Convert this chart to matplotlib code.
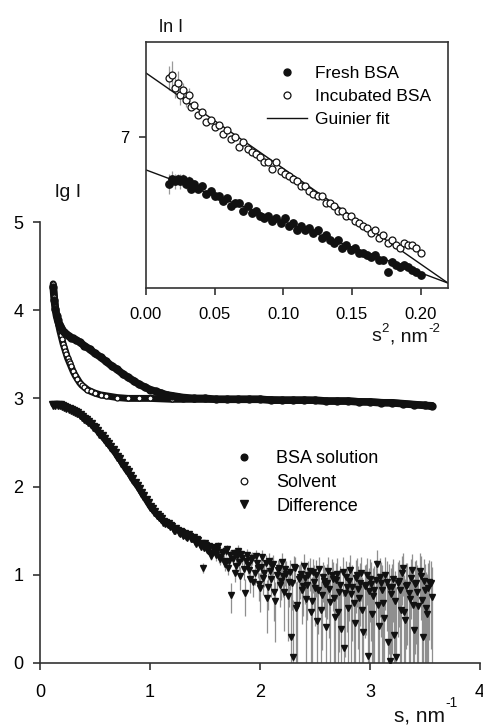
import numpy as np
import matplotlib
matplotlib.use("Agg")
import matplotlib.pyplot as plt
from matplotlib.lines import Line2D

plt.rcParams["font.family"] = ["Liberation Sans", "DejaVu Sans"]

# ---- main panel: lg I vs s ----
bsa_s = [0.12, 0.13, 0.14, 0.15, 0.16, 0.17, 0.18, 0.19, 0.20,
         0.22, 0.24, 0.26, 0.28, 0.30, 0.33, 0.36,
         0.40, 0.45, 0.50, 0.55, 0.60, 0.65, 0.70, 0.75, 0.80, 0.85,
         0.90, 0.95, 1.00, 1.05, 1.10, 1.15, 1.20, 1.25, 1.30,
         1.40, 1.50, 1.60, 1.70, 1.80, 1.90, 2.00, 2.10, 2.20, 2.30, 2.40,
         2.50, 2.60, 2.70, 2.80, 2.90, 3.00, 3.10, 3.20, 3.30, 3.40, 3.50, 3.56]
bsa_lg = [4.27, 4.12, 4.01, 3.94, 3.89, 3.85, 3.82, 3.80, 3.78,
          3.75, 3.73, 3.71, 3.69, 3.68, 3.66, 3.64,
          3.60, 3.56, 3.51, 3.47, 3.42, 3.37, 3.33, 3.28, 3.24, 3.20,
          3.16, 3.13, 3.10, 3.08, 3.06, 3.04, 3.03, 3.02, 3.01,
          3.00, 3.00, 2.99, 2.99, 2.99, 2.99, 2.99, 2.98, 2.98, 2.98, 2.98,
          2.98, 2.97, 2.97, 2.97, 2.96, 2.96, 2.95, 2.95, 2.94, 2.93, 2.92, 2.91]

solv_s = [0.12, 0.13, 0.14, 0.15, 0.16, 0.17, 0.18, 0.19, 0.20, 0.21, 0.22,
          0.23, 0.24, 0.25, 0.26, 0.27, 0.28,
          0.30, 0.32, 0.34, 0.36, 0.38, 0.40,
          0.43, 0.46, 0.50, 0.55, 0.60,
          0.70, 0.80, 0.90, 1.00,
          1.20, 1.40, 1.60, 1.80, 2.00, 2.20, 2.40, 2.60, 2.80, 3.00, 3.20, 3.40,
          3.56]
solv_lg = [4.30, 4.15, 4.04, 3.96, 3.90, 3.83, 3.77, 3.72, 3.67, 3.62, 3.58,
           3.54, 3.50, 3.46, 3.43, 3.40, 3.37,
           3.31, 3.26, 3.22, 3.18, 3.15, 3.13,
           3.10, 3.08, 3.06, 3.04, 3.03,
           3.01, 3.00, 3.00, 3.00,
           2.99, 2.99, 2.99, 2.99, 2.99, 2.98, 2.98, 2.97, 2.97, 2.96, 2.95, 2.93,
           2.92]

# difference curve, smooth low-angle part
diff_s_a = [0.12, 0.14, 0.16, 0.18, 0.20, 0.22, 0.24, 0.26, 0.28, 0.30,
            0.32, 0.34, 0.36, 0.38, 0.40, 0.42, 0.44, 0.46, 0.48, 0.50,
            0.52, 0.54, 0.56, 0.58, 0.60, 0.62, 0.64, 0.66, 0.68, 0.70,
            0.72, 0.74, 0.76, 0.78, 0.80, 0.82, 0.84, 0.86, 0.88, 0.90,
            0.92, 0.94, 0.96, 0.98, 1.00, 1.02, 1.04, 1.06, 1.08, 1.10,
            1.12, 1.14, 1.16, 1.18]
diff_lg_a = [2.93, 2.93, 2.92, 2.92, 2.91, 2.90, 2.89, 2.88, 2.87, 2.86,
             2.84, 2.83, 2.81, 2.79, 2.77, 2.75, 2.73, 2.71, 2.68, 2.66,
             2.63, 2.60, 2.57, 2.54, 2.51, 2.48, 2.45, 2.41, 2.38, 2.34,
             2.31, 2.27, 2.23, 2.19, 2.16, 2.12, 2.08, 2.04, 2.01, 1.97,
             1.93, 1.89, 1.85, 1.81, 1.77, 1.74, 1.71, 1.68, 1.65, 1.63,
             1.60, 1.59, 1.57, 1.55]

# difference curve, noisy part, even grid (groups of ten)
diff_s_b = [1.20, 1.22, 1.24, 1.26, 1.28, 1.30, 1.32, 1.34, 1.36, 1.38,
            1.40, 1.42, 1.44, 1.46, 1.48, 1.50, 1.52, 1.54, 1.56, 1.58,
            1.60, 1.62, 1.64, 1.66, 1.68, 1.70, 1.72, 1.74, 1.76, 1.78,
            1.80, 1.82, 1.84, 1.86, 1.88, 1.90, 1.92, 1.94, 1.96, 1.98,
            2.00, 2.02, 2.04, 2.06, 2.08, 2.10, 2.12, 2.14, 2.16, 2.18,
            2.20, 2.22, 2.24, 2.26, 2.28, 2.30, 2.32, 2.34, 2.36, 2.38,
            2.40, 2.42, 2.44, 2.46, 2.48, 2.50, 2.52, 2.54, 2.56, 2.58,
            2.60, 2.62, 2.64, 2.66, 2.68, 2.70, 2.72, 2.74, 2.76, 2.78,
            2.80, 2.82, 2.84, 2.86, 2.88, 2.90, 2.92, 2.94, 2.96, 2.98,
            3.00, 3.02, 3.04, 3.06, 3.08, 3.10, 3.12, 3.14, 3.16, 3.18,
            3.20, 3.22, 3.24, 3.26, 3.28, 3.30, 3.32, 3.34, 3.36, 3.38,
            3.40, 3.42, 3.44, 3.46, 3.48, 3.50, 3.52, 3.54, 3.56]
diff_lg_b = [1.55, 1.50, 1.53, 1.47, 1.49, 1.44, 1.47, 1.41, 1.44, 1.40,
             1.43, 1.35, 1.39, 1.31, 1.08, 1.36, 1.28, 1.33, 1.25, 1.31,
             1.22, 1.33, 1.18, 1.26, 1.12, 1.29, 1.15, 0.77, 1.24, 1.10,
             1.27, 0.98, 1.19, 0.79, 1.22, 1.05, 1.17, 0.92, 1.21, 1.08,
             0.85, 1.20, 1.02, 0.74, 1.15, 0.95, 1.12, 0.70, 1.05, 0.88,
             1.14, 0.80, 1.01, 0.92, 0.29, 0.07, 1.08, 0.66, 0.97, 0.83,
             1.10, 0.72, 0.99, 0.58, 1.03, 0.85, 0.47, 1.06, 0.77, 0.93,
             0.40, 1.04, 0.69, 0.95, 0.52, 1.01, 0.80, 0.38, 0.17, 0.97,
             0.62, 1.05, 0.86, 0.45, 0.99, 0.73, 1.02, 0.35, 0.88, 0.08,
             0.95, 0.55, 0.82, 1.12, 0.42, 0.90, 0.68, 1.00, 0.24, 0.02,
             0.86, 0.31, 0.07, 0.93, 0.60, 1.07, 0.48, 0.88, 0.72, 1.05,
             0.37, 0.91, 0.64, 0.98, 0.29, 0.83, 0.55, 0.92, 0.75]
# noisy part, odd grid (groups of ten)
diff_s_c = [1.21, 1.23, 1.25, 1.27, 1.29, 1.31, 1.33, 1.35, 1.37, 1.39,
            1.41, 1.43, 1.45, 1.47, 1.49, 1.51, 1.53, 1.55, 1.57, 1.59,
            1.61, 1.63, 1.65, 1.67, 1.69, 1.71, 1.73, 1.75, 1.77, 1.79,
            1.81, 1.83, 1.85, 1.87, 1.89, 1.91, 1.93, 1.95, 1.97, 1.99,
            2.01, 2.03, 2.05, 2.07, 2.09, 2.11, 2.13, 2.15, 2.17, 2.19,
            2.21, 2.23, 2.25, 2.27, 2.29, 2.31, 2.33, 2.35, 2.37, 2.39,
            2.41, 2.43, 2.45, 2.47, 2.49, 2.51, 2.53, 2.55, 2.57, 2.59,
            2.61, 2.63, 2.65, 2.67, 2.69, 2.71, 2.73, 2.75, 2.77, 2.79,
            2.81, 2.83, 2.85, 2.87, 2.89, 2.91, 2.93, 2.95, 2.97, 2.99,
            3.01, 3.03, 3.05, 3.07, 3.09, 3.11, 3.13, 3.15, 3.17, 3.19,
            3.21, 3.23, 3.25, 3.27, 3.29, 3.31, 3.33, 3.35, 3.37, 3.39,
            3.41, 3.43, 3.45, 3.47, 3.49, 3.51, 3.53, 3.55]
diff_lg_c = [1.52, 1.49, 1.51, 1.46, 1.48, 1.45, 1.43, 1.46, 1.40, 1.42,
             1.37, 1.40, 1.34, 1.36, 1.30, 1.34, 1.27, 1.21, 1.30, 1.26,
             1.28, 1.20, 1.25, 1.16, 1.27, 1.08, 1.22, 1.18, 1.02, 1.21,
             1.14, 1.23, 1.06, 1.16, 1.11, 0.95, 1.19, 1.02, 1.13, 0.89,
             1.09, 0.96, 1.13, 0.86, 1.04, 1.10, 0.80, 1.00, 1.07, 0.93,
             0.98, 1.06, 0.76, 1.03, 0.90, 1.09, 0.62, 0.95, 1.01, 0.87,
             0.96, 0.88, 1.04, 0.70, 0.92, 1.00, 0.82, 0.60, 0.97, 0.89,
             0.91, 0.84, 1.00, 0.74, 0.94, 0.57, 0.88, 1.03, 0.79, 0.86,
             0.93, 0.78, 0.68, 0.96, 0.84, 0.91, 0.60, 0.87, 1.00, 0.81,
             0.89, 0.76, 0.94, 0.65, 0.97, 0.83, 0.51, 0.92, 0.86, 0.78,
             0.95, 0.70, 0.90, 0.82, 1.02, 0.58, 0.87, 0.79, 0.96, 0.66,
             0.89, 0.80, 1.04, 0.71, 0.93, 0.62, 0.85, 0.90]
# absolute intensity error for each group of ten points above
diff_sigma = [1.0, 1.5, 2.2, 2.8, 3.3, 4.0, 4.5, 5.0, 5.5, 6.0, 6.0, 6.5]

# ---- inset: Guinier plot ----
g_s2 = [0.017, 0.019, 0.021, 0.023, 0.025, 0.027, 0.029, 0.031, 0.033, 0.035,
        0.038, 0.041, 0.044, 0.047, 0.050, 0.053, 0.056, 0.059, 0.062, 0.065,
        0.068, 0.071, 0.074, 0.077, 0.080, 0.083, 0.086, 0.089, 0.092, 0.095,
        0.098, 0.101, 0.104, 0.107, 0.110, 0.113, 0.116, 0.119, 0.122, 0.125,
        0.128, 0.131, 0.134, 0.137, 0.140, 0.143, 0.146, 0.149, 0.152, 0.155,
        0.158, 0.161, 0.164, 0.167, 0.170, 0.173, 0.176, 0.179, 0.182, 0.185,
        0.188, 0.191, 0.194, 0.197, 0.200]
fresh_ln = [6.81, 6.83, 6.82, 6.83, 6.82, 6.83, 6.81, 6.82, 6.79, 6.81,
            6.79, 6.80, 6.77, 6.78, 6.76, 6.76, 6.74, 6.75, 6.72, 6.73,
            6.73, 6.70, 6.72, 6.69, 6.70, 6.68, 6.67, 6.68, 6.66, 6.67,
            6.65, 6.67, 6.64, 6.65, 6.62, 6.64, 6.62, 6.63, 6.61, 6.62,
            6.59, 6.60, 6.58, 6.57, 6.58, 6.55, 6.56, 6.54, 6.55, 6.53,
            6.53, 6.52, 6.51, 6.52, 6.50, 6.50, 6.45, 6.49, 6.48, 6.47,
            6.48, 6.47, 6.46, 6.45, 6.44]
incub_ln = [7.24, 7.25, 7.20, 7.22, 7.17, 7.19, 7.15, 7.17, 7.12, 7.13,
            7.09, 7.10, 7.06, 7.07, 7.04, 7.05, 7.01, 7.03, 6.99, 7.00,
            6.96, 6.98, 6.95, 6.94, 6.93, 6.92, 6.90, 6.90, 6.87, 6.90,
            6.86, 6.85, 6.84, 6.83, 6.82, 6.80, 6.80, 6.78, 6.77, 6.76,
            6.76, 6.73, 6.73, 6.72, 6.70, 6.70, 6.68, 6.68, 6.66, 6.65,
            6.64, 6.63, 6.61, 6.62, 6.59, 6.60, 6.57, 6.58, 6.56, 6.55,
            6.57, 6.56, 6.56, 6.55, 6.53]
# error bars visible only on the first points
fresh_err = [0.04, 0.03, 0.03, 0.02, 0.03, 0.02, 0.02, 0.02]
incub_err = [0.05, 0.06, 0.04, 0.05, 0.04, 0.03, 0.03, 0.03]
fit_s2 = [0.0, 0.22]
fresh_fit = [6.866, 6.406]
incub_fit = [7.260, 6.406]

ink = "#111111"
spine_col = "#333333"
W, H = 483, 728


def fx(px):
    return px / W


def fy(py):
    return 1 - py / H


fig = plt.figure(figsize=(4.83, 7.28), dpi=100)

# main axes
ax = fig.add_axes([fx(40), fy(662.7), fx(440), 440.5 / H])
ax.set_xlim(0, 4)
ax.set_ylim(0, 5)
ax.set_xticks([0, 1, 2, 3, 4])
ax.set_yticks([0, 1, 2, 3, 4, 5])
for side in ["top", "right"]:
    ax.spines[side].set_visible(False)
for side in ["left", "bottom"]:
    ax.spines[side].set_color(spine_col)
    ax.spines[side].set_linewidth(1.2)
ax.tick_params(direction="out", length=5, width=1.2, color=spine_col,
               labelsize=13)
ax.tick_params(axis="y", pad=7)
ax.tick_params(axis="x", pad=10)


# error bars of the difference curve (both grids)
def log_bars(s, y):
    s = np.array(s)
    y = np.array(y)
    sig = np.repeat(diff_sigma, 10)[:len(s)]
    inten = 10 ** y
    lo = np.where(inten > sig, y - np.log10(np.clip(inten - sig, 1e-9, None)), y)
    hi = np.log10(inten + sig) - y
    return s, y, lo, hi


for s_, y_ in [(diff_s_b, diff_lg_b), (diff_s_c, diff_lg_c)]:
    s, y, lo, hi = log_bars(s_, y_)
    ax.errorbar(s, y, yerr=[lo, hi], fmt="none", ecolor="#8f8f8f",
                elinewidth=0.9, capsize=0, zorder=1)

# connecting bands of the dense curves
ax.plot(solv_s, solv_lg, color=ink, lw=5.0, zorder=2, solid_capstyle="round")
ax.plot(bsa_s, bsa_lg, color=ink, lw=5.5, zorder=2, solid_capstyle="round")
ax.plot(diff_s_a, diff_lg_a, color=ink, lw=4.0, zorder=2, solid_capstyle="round")

ax.plot(solv_s, solv_lg, "o", ms=3.6, mfc="white", mec=ink, mew=0.9, zorder=3)
ax.plot(bsa_s, bsa_lg, "o", ms=5.0, color=ink, zorder=4)
ax.plot(diff_s_a, diff_lg_a, "v", ms=5.5, color=ink, zorder=3)
ax.plot(diff_s_b, diff_lg_b, "v", ms=5.0, color=ink, zorder=3)
ax.plot(diff_s_c, diff_lg_c, "v", ms=5.0, color=ink, zorder=3)

handles = [Line2D([], [], ls="none", marker="o", ms=4.8, color=ink),
           Line2D([], [], ls="none", marker="o", ms=4.8, mfc="white", mec=ink, mew=0.9),
           Line2D([], [], ls="none", marker="v", ms=5.2, color=ink)]
fig.legend(handles, ["BSA solution", "Solvent", "Difference"],
           loc="upper left", bbox_to_anchor=(fx(223), fy(450)),
           frameon=False, fontsize=13, handlelength=2.3, handletextpad=0.65,
           labelspacing=0.38, borderpad=0, borderaxespad=0)


def label_with_sup(x0, base_y, sup_y, parts, size, sup_size):
    # parts: list of (text, is_superscript); pieces are placed one after another
    prev = None
    for txt, is_sup in parts:
        y = sup_y if is_sup else base_y
        fs = sup_size if is_sup else size
        if prev is None:
            prev = ax.annotate(txt, xy=(fx(x0), fy(y)), xycoords="figure fraction",
                               fontsize=fs, color=ink, va="baseline", ha="left",
                               annotation_clip=False)
        else:
            prev = ax.annotate(txt, xy=(1, fy(y)), xycoords=(prev, "figure fraction"),
                               xytext=(0.6, 0), textcoords="offset points",
                               fontsize=fs, color=ink, va="baseline", ha="left",
                               annotation_clip=False)


fig.text(fx(55), fy(197), "lg I", fontsize=14, color=ink)
label_with_sup(394, 721, 707, [("s, nm", False), ("-1", True)], 15, 10)

# inset axes
ins = fig.add_axes([fx(146), fy(288), 302 / W, 246 / H])
ins.set_xlim(0, 0.22)
ins.set_ylim(6.386, 7.386)
ins.set_xticks([0.0, 0.05, 0.10, 0.15, 0.20])
ins.set_xticklabels(["0.00", "0.05", "0.10", "0.15", "0.20"])
ins.set_yticks([7])
for side in ins.spines:
    ins.spines[side].set_color(spine_col)
    ins.spines[side].set_linewidth(1.2)
ins.tick_params(direction="out", length=4.8, width=1.2, color=spine_col,
                labelsize=12)
ins.tick_params(axis="y", pad=7)
ins.tick_params(axis="x", pad=9)

ins.plot(fit_s2, fresh_fit, color=ink, lw=1.0, zorder=2)
ins.plot(fit_s2, incub_fit, color=ink, lw=1.0, zorder=2)
n_e = len(fresh_err)
ins.errorbar(g_s2[:n_e], fresh_ln[:n_e], yerr=fresh_err, fmt="none",
             ecolor="#9a9a9a", elinewidth=0.9, zorder=1)
ins.errorbar(g_s2[:n_e], incub_ln[:n_e], yerr=incub_err, fmt="none",
             ecolor="#9a9a9a", elinewidth=0.9, zorder=1)
ins.plot(g_s2, fresh_ln, "o", ms=5.3, color=ink, zorder=3)
ins.plot(g_s2, incub_ln, "o", ms=5.0, mfc="white", mec=ink, mew=0.9, zorder=3)

ihandles = [Line2D([], [], ls="none", marker="o", ms=5.0, color=ink),
            Line2D([], [], ls="none", marker="o", ms=5.0, mfc="white", mec=ink, mew=0.9),
            Line2D([], [], color=ink, lw=1.0)]
fig.legend(ihandles, ["Fresh BSA", "Incubated BSA", "Guinier fit"],
           loc="upper left", bbox_to_anchor=(fx(267), fy(66)),
           frameon=False, fontsize=12.5, handlelength=2.3, handletextpad=0.45,
           labelspacing=0.45, borderpad=0, borderaxespad=0)

fig.text(fx(159), fy(32), "ln I", fontsize=13, color=ink, va="baseline")
label_with_sup(371, 341, 332, [("s", False), ("2", True), (", nm", False), ("-2", True)],
               14, 9.5)

fig.savefig("out.png", dpi=100)
